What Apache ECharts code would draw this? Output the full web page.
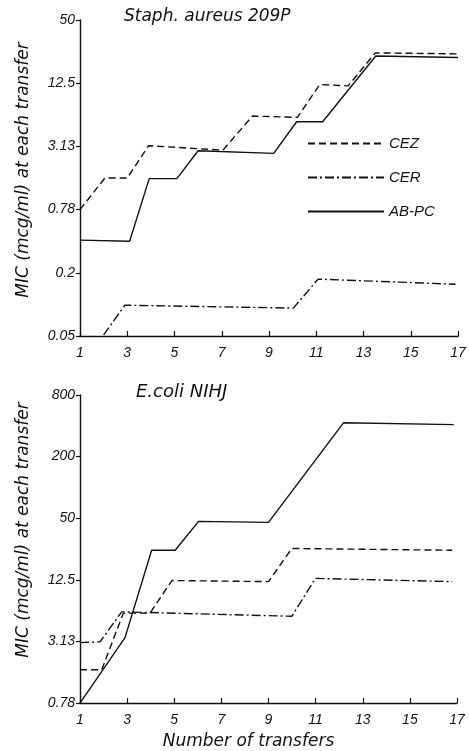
<!DOCTYPE html>
<html lang="en">
<head>
<meta charset="UTF-8">
<title>MIC at each transfer</title>
<script src="https://cdn.jsdelivr.net/npm/echarts@6/dist/echarts.min.js"></script>
<style>
    html, body { margin: 0; padding: 0; background: #fff; }
    #main { width: 469px; height: 751px; }
</style>
</head>
<body>
<div id="main"></div>
<script type="text/javascript">
// x: number of transfers, y: MIC (mcg/ml)
var xTicks = [1, 3, 5, 7, 9, 11, 13, 15, 17];
var staphTicks = ['0.05', '0.2', '0.78', '3.13', '12.5', '50'];
var coliTicks = ['0.78', '3.13', '12.5', '50', '200', '800'];

// Staph. aureus 209P
var staphCEZx = [1, 2.05, 3, 3.9, 7.05, 8.3, 10.2, 11.15, 12.35, 13.5, 17];
var staphCEZ = [0.78, 1.56, 1.56, 3.17, 2.88, 6.08, 5.91, 12.15, 11.8, 24.3, 23.8];
var staphCERx = [2, 2.9, 10.03, 11.08, 16.9];
var staphCER = [0.05, 0.096, 0.09, 0.17, 0.152];
var staphABPCx = [1, 3.1, 3.93, 5.1, 6.0, 9.2, 10.17, 11.27, 13.52, 17];
var staphABPC = [0.4, 0.39, 1.54, 1.54, 2.84, 2.68, 5.37, 5.37, 22.7, 22.0];

// E.coli NIHJ
var coliCEZx = [1, 1.92, 2.84, 3.97, 4.9, 9.0, 9.99, 16.8];
var coliCEZ = [1.65, 1.65, 5.9, 5.9, 12.3, 12.0, 25.3, 24.3];
var coliCERx = [1, 1.85, 2.77, 9.99, 10.99, 16.8];
var coliCER = [3.04, 3.1, 6.08, 5.5, 12.9, 12.0];
var coliABPCx = [1, 2.91, 4.04, 5.04, 6.03, 9.0, 12.19, 16.86];
var coliABPC = [0.78, 3.4, 24.3, 24.3, 46.6, 45.5, 429, 411];

var dashCEZ = [7, 4];
var dashCER = [9, 3, 2, 3];

// each panel is a 4-fold dilution scale: level 5 = top value
function level(v, top) {
    return 5 - Math.log(top / v) / Math.log(4);
}

function line(name, xs, vs, top, idx, dash) {
    return {
        name: name,
        type: 'line',
        xAxisIndex: idx,
        yAxisIndex: idx,
        data: xs.map(function (x, i) { return [x, level(vs[i], top)]; }),
        symbol: 'none',
        clip: false,
        lineStyle: { color: '#111', width: 1.4, type: dash }
    };
}

var font = 'Liberation Sans';
var nameFont = 'DejaVu Sans';
var axisCol = '#111';

function xAxis(idx, showName) {
    return {
        type: 'value', gridIndex: idx, min: 1, max: 17,
        axisLine: { lineStyle: { color: axisCol, width: 1.4 } },
        axisTick: { inside: true, length: 5, customValues: xTicks, lineStyle: { color: axisCol, width: 1.2 } },
        axisLabel: { customValues: xTicks, color: '#111', fontFamily: font, fontStyle: 'italic', fontSize: 14, margin: 10 },
        splitLine: { show: false },
        name: showName ? 'Number of transfers' : '',
        nameLocation: 'middle',
        nameGap: 30,
        nameTextStyle: { color: '#111', fontFamily: nameFont, fontStyle: 'italic', fontSize: 17, padding: [0, 40, 0, 0] }
    };
}

function yAxis(idx, labels, pad) {
    return {
        type: 'value', gridIndex: idx, min: 0, max: 5, interval: 1,
        axisLine: { show: true, lineStyle: { color: axisCol, width: 1.4 } },
        axisTick: { show: true, length: 4, lineStyle: { color: axisCol, width: 1.2 } },
        axisLabel: {
            color: '#111', fontFamily: font, fontStyle: 'italic', fontSize: 14, margin: 5,
            formatter: function (v) { return labels[Math.round(v)]; }
        },
        splitLine: { show: false },
        name: 'MIC (mcg/ml) at each transfer',
        nameLocation: 'middle',
        nameGap: 48,
        nameTextStyle: { color: '#111', fontFamily: nameFont, fontStyle: 'italic', fontSize: 17, padding: pad }
    };
}

var myChart = echarts.init(document.getElementById('main'));
var option = {
    animation: false,
    backgroundColor: '#fff',
    title: [
        { text: 'Staph. aureus 209P', left: 119, top: 3, textStyle: { color: '#111', fontFamily: nameFont, fontStyle: 'italic', fontWeight: 'normal', fontSize: 17 } },
        { text: 'E.coli NIHJ', left: 131, top: 378, textStyle: { color: '#111', fontFamily: nameFont, fontStyle: 'italic', fontWeight: 'normal', fontSize: 18 } }
    ],
    legend: {
        data: ['CEZ', 'CER', 'AB-PC'],
        orient: 'vertical',
        left: 302, top: 131,
        itemWidth: 76, itemHeight: 14, itemGap: 19,
        itemStyle: { opacity: 0 },
        textStyle: { color: '#111', fontFamily: font, fontStyle: 'italic', fontSize: 15 },
        selectedMode: false
    },
    grid: [
        { left: 80, right: 11, top: 20, height: 316 },
        { left: 80, right: 12, top: 395, height: 311 }
    ],
    xAxis: [xAxis(0, false), xAxis(1, true)],
    yAxis: [yAxis(0, staphTicks, [0, 0, 0, 16]), yAxis(1, coliTicks, [0, 0, 0, 38])],
    series: [
        line('CEZ', staphCEZx, staphCEZ, 50, 0, dashCEZ),
        line('CER', staphCERx, staphCER, 50, 0, dashCER),
        line('AB-PC', staphABPCx, staphABPC, 50, 0, 'solid'),
        line('CEZ', coliCEZx, coliCEZ, 800, 1, dashCEZ),
        line('CER', coliCERx, coliCER, 800, 1, dashCER),
        line('AB-PC', coliABPCx, coliABPC, 800, 1, 'solid')
    ]
};
myChart.setOption(option);
</script>
</body>
</html>
